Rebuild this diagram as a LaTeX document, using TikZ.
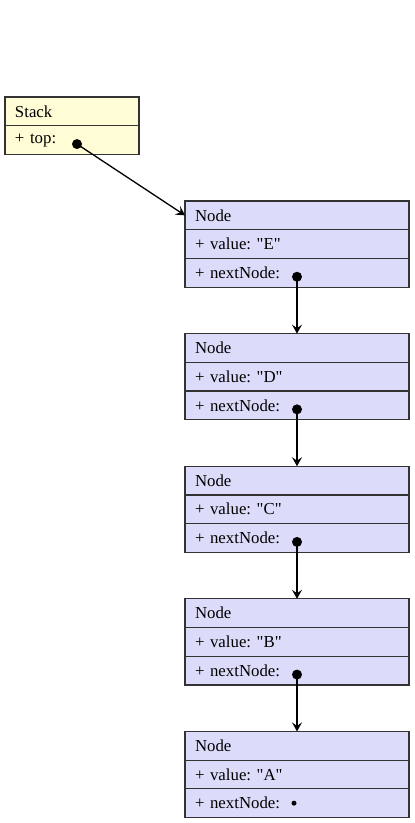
\documentclass[tikz,border=0pt]{standalone}
\usepackage{fontspec}
\setmainfont{Liberation Serif}[Ligatures=TeXOff]
\usetikzlibrary{arrows.meta}
\definecolor{stackfill}{RGB}{255,252,214}
\definecolor{nodefill}{RGB}{220,220,250}
\tikzset{
  row/.style={draw=black!80,line width=1.2pt,outer sep=0pt,minimum height=28.7pt,inner xsep=10pt,inner ysep=0pt,align=left,anchor=north,font=\fontsize{16.8}{20}\selectfont\frenchspacing},
  stackrow/.style={row,fill=stackfill,text width=114pt},
  noderow/.style={row,fill=nodefill,text width=204pt},
  link/.style={line width=1.3pt,-{Stealth[length=9pt,width=10pt,inset=3.5pt]}},
}
\begin{document}
\begin{tikzpicture}[x=1pt,y=1pt]
  \useasboundingbox (0,0) rectangle (415,-823);
  % the stack
  \node[stackrow] (S) at (72,-97) {Stack};
  \node[stackrow] (S-top) at (S.south) {+ top:};
  \coordinate (S-dot) at ([shift={(72,-4)}]S-top.west);
  % the chain of nodes
  \foreach \v [count=\i from 0] in {E,D,C,B,A}{
    \node[noderow] (\v) at (297,-201-132.6*\i) {Node};
    \node[noderow] (\v-val) at (\v.south) {+ value: "\v"};
    \node[noderow] (\v-next) at (\v-val.south) {+ nextNode:};
    \coordinate (\v-dot) at ([yshift=-4]\v-next.center);
  }
  \draw[link] (S-dot) -- (E.west);
  \fill (S-dot) circle (5);
  \foreach \a/\b in {E/D,D/C,C/B,B/A}{
    \draw[link] (\a-dot) -- (\b.north);
    \fill (\a-dot) circle (5);
  }
  \fill ([xshift=-3]A-next.center) circle (2.5);
\end{tikzpicture}
\end{document}
